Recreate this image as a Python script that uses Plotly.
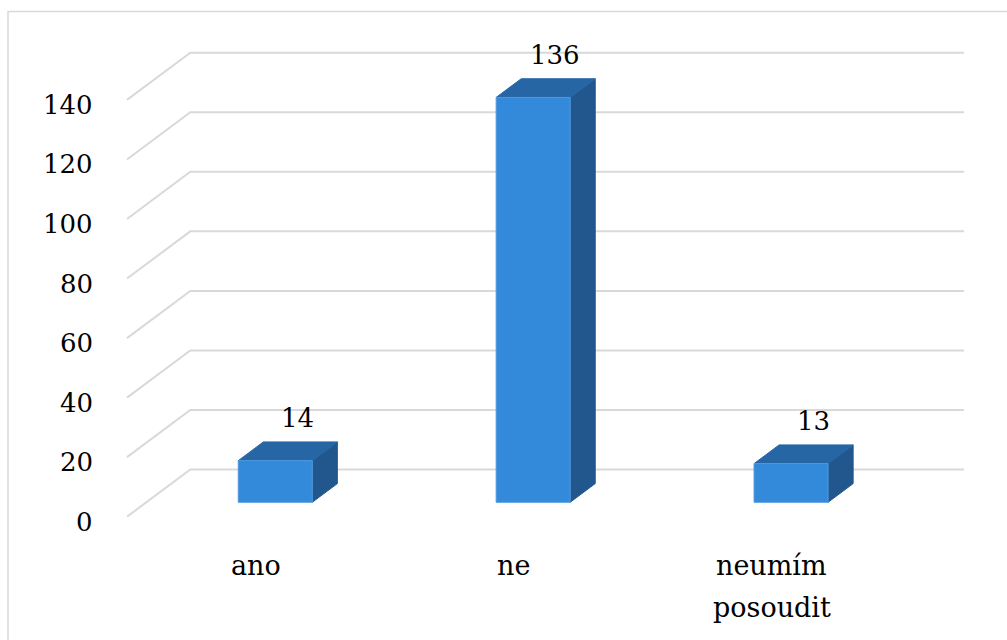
import plotly.graph_objects as go

# ---- data ----
categories = ["ano", "ne", "neumím<br>posoudit"]
values = [14, 136, 13]
tick_values = [0, 20, 40, 60, 80, 100, 120, 140]
tick_labels = ["0", "20", "40", "60", "80", "100", "120", "140"]

# ---- geometry / style (oblique 3D projection in data units) ----
W, H = 1007, 640
X0_PX, CAT_PX = 127.0, 257.9          # front-plane left edge, px per category
Y0_PX, VAL_PX = 516.7, 2.977          # front-plane zero, px per value unit
DEPTH_DX = 63.3 / CAT_PX              # full depth shift in category units
DEPTH_DY = 47.2 / VAL_PX              # full depth shift in value units
BAR_HALF = 0.1435
D_FRONT, D_BACK = 0.305, 0.701

FONT = "DejaVu Serif"
FS = 26
FS_CAT = 27
LINE_GAP = 42
GRID = "#d9d9d9"
C_FRONT, C_TOP, C_SIDE = "#3389da", "#2766a5", "#22578d"

x_range = [-0.5 - X0_PX / CAT_PX, -0.5 + (W - X0_PX) / CAT_PX]
y_range = [-(H - Y0_PX) / VAL_PX, Y0_PX / VAL_PX]

def shift(c, v, d):
    return c + d * DEPTH_DX, v + d * DEPTH_DY

fig = go.Figure()

# gridlines: side-wall diagonal + back-wall horizontal
x_left = -0.5
x_right = len(categories) - 0.5
for tv in tick_values:
    bx, by = shift(x_left, tv, 1.0)
    rx, ry = shift(x_right, tv, 1.0)
    fig.add_trace(go.Scatter(x=[x_left, bx, rx], y=[tv, by, ry], mode="lines",
                             line=dict(color=GRID, width=2), hoverinfo="skip",
                             showlegend=False))

# bars
for i, (cat, v) in enumerate(zip(categories, values)):
    l, r = i - BAR_HALF, i + BAR_HALF
    flx, fby = shift(l, 0, D_FRONT)
    frx, _ = shift(r, 0, D_FRONT)
    fty = fby + v
    blx, bby = shift(l, 0, D_BACK)
    brx, _ = shift(r, 0, D_BACK)
    bty = bby + v
    # side face
    fig.add_trace(go.Scatter(x=[frx, brx, brx, frx, frx], y=[fty, bty, bby, fby, fty],
                             fill="toself", fillcolor=C_SIDE, mode="lines",
                             line=dict(color=C_SIDE, width=1), hoverinfo="skip", showlegend=False))
    # top face
    fig.add_trace(go.Scatter(x=[flx, frx, brx, blx, flx], y=[fty, fty, bty, bty, fty],
                             fill="toself", fillcolor=C_TOP, mode="lines",
                             line=dict(color=C_TOP, width=1), hoverinfo="skip", showlegend=False))
    # front face
    fig.add_trace(go.Scatter(x=[flx, frx, frx, flx, flx], y=[fby, fby, fty, fty, fby],
                             fill="toself", fillcolor=C_FRONT, mode="lines",
                             line=dict(color="#4e9be0", width=1), hoverinfo="skip", showlegend=False))
    # data label
    cx = (blx + brx) / 2
    fig.add_annotation(x=cx, y=bty, text=str(v), showarrow=False, xanchor="center",
                       yanchor="bottom", xshift=-3, yshift=7,
                       font=dict(family=FONT, size=FS, color="#000000"))
    # category label (one annotation per line for Excel-like line spacing)
    for k, line in enumerate(cat.split("<br>")):
        fig.add_annotation(x=i, y=-10.5, text=line, showarrow=False, xanchor="center",
                           yanchor="top", align="center", yshift=-LINE_GAP * k,
                           font=dict(family=FONT, size=FS_CAT, color="#000000"))

# value axis labels on the front plane
for tv, tl in zip(tick_values, tick_labels):
    fig.add_annotation(x=x_left, y=tv, text=tl, showarrow=False, xanchor="right",
                       yanchor="middle", xshift=-32, yshift=-5,
                       font=dict(family=FONT, size=FS, color="#000000"))

# chart frame
fig.add_shape(type="rect", xref="paper", yref="paper",
              x0=8 / W, x1=1.02, y0=-0.02, y1=1 - 11.5 / H,
              line=dict(color=GRID, width=1.5), fillcolor="rgba(0,0,0,0)")

fig.update_layout(
    width=W, height=H,
    margin=dict(l=0, r=0, t=0, b=0),
    paper_bgcolor="white", plot_bgcolor="white",
    font=dict(family=FONT),
    xaxis=dict(range=x_range, visible=False, fixedrange=True),
    yaxis=dict(range=y_range, visible=False, fixedrange=True),
    showlegend=False,
)

fig.write_html("out.html")
